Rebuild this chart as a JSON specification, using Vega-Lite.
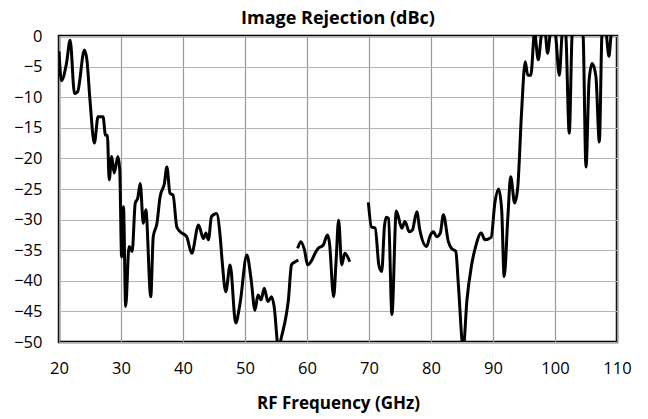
{
  "$schema": "https://vega.github.io/schema/vega-lite/v6.json",
  "autosize": {"type": "none"},
  "width": 558,
  "height": 306,
  "padding": {"left": 59, "top": 36, "right": 31, "bottom": 77},
  "background": "white",
  "title": {"text": "Image Rejection (dBc)", "font": "Open Sans", "fontSize": 18, "fontWeight": "bold", "color": "black", "offset": 0, "anchor": "middle"},
  "config": {
    "view": {"stroke": "black", "strokeWidth": 2.5},
    "axis": {"labelFont": "Open Sans", "labelFontSize": 16.5, "labelColor": "black", "titleFont": "Open Sans", "titleFontSize": 17, "titleFontWeight": "bold", "titleColor": "black", "ticks": false, "domain": false, "gridColor": "#a8a8a8", "gridWidth": 1.2, "gridOpacity": 1, "labelFlush": false}
  },
  "data": {"values": [
    {"f": 20.0, "v": -2.5, "s": "A"}, {"f": 20.4, "v": -7.3, "s": "A"}, {"f": 21.2, "v": -4.5, "s": "A"}, {"f": 21.8, "v": -0.7, "s": "A"},
    {"f": 22.5, "v": -9.4, "s": "A"}, {"f": 23.0, "v": -9.1, "s": "A"}, {"f": 24.1, "v": -2.3, "s": "A"}, {"f": 24.5, "v": -3.9, "s": "A"},
    {"f": 25.0, "v": -10.5, "s": "A"}, {"f": 25.7, "v": -17.5, "s": "A"}, {"f": 26.3, "v": -13.2, "s": "A"}, {"f": 27.1, "v": -13.2, "s": "A"},
    {"f": 27.5, "v": -16.2, "s": "A"}, {"f": 27.8, "v": -16.2, "s": "A"}, {"f": 28.1, "v": -23.5, "s": "A"}, {"f": 28.5, "v": -19.7, "s": "A"},
    {"f": 28.9, "v": -22.4, "s": "A"}, {"f": 29.5, "v": -19.7, "s": "A"}, {"f": 29.8, "v": -21.9, "s": "A"}, {"f": 30.1, "v": -36.1, "s": "A"},
    {"f": 30.4, "v": -27.9, "s": "A"}, {"f": 30.75, "v": -44.2, "s": "A"}, {"f": 31.3, "v": -34.4, "s": "A"}, {"f": 31.8, "v": -35.2, "s": "A"},
    {"f": 32.3, "v": -27.3, "s": "A"}, {"f": 32.7, "v": -26.5, "s": "A"}, {"f": 33.1, "v": -24.1, "s": "A"}, {"f": 33.6, "v": -30.6, "s": "A"},
    {"f": 34.0, "v": -28.4, "s": "A"}, {"f": 34.8, "v": -42.6, "s": "A"}, {"f": 35.2, "v": -32.8, "s": "A"}, {"f": 35.8, "v": -30.6, "s": "A"},
    {"f": 36.3, "v": -26.3, "s": "A"}, {"f": 37.0, "v": -24.1, "s": "A"}, {"f": 37.4, "v": -21.4, "s": "A"}, {"f": 37.9, "v": -25.7, "s": "A"},
    {"f": 38.4, "v": -26.0, "s": "A"}, {"f": 39.0, "v": -31.2, "s": "A"}, {"f": 39.8, "v": -32.2, "s": "A"}, {"f": 40.3, "v": -32.5, "s": "A"},
    {"f": 40.6, "v": -32.8, "s": "A"}, {"f": 41.4, "v": -35.5, "s": "A"}, {"f": 42.5, "v": -30.9, "s": "A"}, {"f": 43.3, "v": -33.1, "s": "A"},
    {"f": 43.7, "v": -32.2, "s": "A"}, {"f": 44.1, "v": -33.3, "s": "A"}, {"f": 44.6, "v": -29.5, "s": "A"}, {"f": 45.4, "v": -29.0, "s": "A"},
    {"f": 46.0, "v": -32.8, "s": "A"}, {"f": 46.3, "v": -36.6, "s": "A"}, {"f": 46.9, "v": -41.8, "s": "A"}, {"f": 47.6, "v": -37.4, "s": "A"},
    {"f": 48.5, "v": -46.9, "s": "A"}, {"f": 49.2, "v": -43.7, "s": "A"}, {"f": 50.3, "v": -35.8, "s": "A"}, {"f": 51.0, "v": -39.9, "s": "A"},
    {"f": 51.6, "v": -44.8, "s": "A"}, {"f": 52.1, "v": -42.3, "s": "A"}, {"f": 52.6, "v": -43.1, "s": "A"}, {"f": 53.1, "v": -41.2, "s": "A"},
    {"f": 53.7, "v": -43.4, "s": "A"}, {"f": 54.3, "v": -42.6, "s": "A"}, {"f": 54.7, "v": -44.2, "s": "A"}, {"f": 55.4, "v": -51, "s": "A"},
    {"f": 55.9, "v": -49.1, "s": "A"}, {"f": 56.7, "v": -45.3, "s": "A"}, {"f": 57.0, "v": -43.1, "s": "A"}, {"f": 57.5, "v": -37.4, "s": "A"},
    {"f": 58.1, "v": -36.9, "s": "A"}, {"f": 58.6, "v": -36.6, "s": "A"},
    {"f": 58.5, "v": -34.7, "s": "B"}, {"f": 59.0, "v": -33.6, "s": "B"}, {"f": 59.6, "v": -35.0, "s": "B"}, {"f": 60.1, "v": -37.4, "s": "B"},
    {"f": 60.8, "v": -36.6, "s": "B"}, {"f": 61.3, "v": -35.5, "s": "B"}, {"f": 61.8, "v": -34.7, "s": "B"}, {"f": 62.6, "v": -34.2, "s": "B"},
    {"f": 63.3, "v": -32.5, "s": "B"}, {"f": 63.6, "v": -33.6, "s": "B"}, {"f": 64.3, "v": -42.6, "s": "B"}, {"f": 64.7, "v": -36.6, "s": "B"},
    {"f": 65.1, "v": -30.1, "s": "B"}, {"f": 65.6, "v": -37.4, "s": "B"}, {"f": 66.1, "v": -35.5, "s": "B"}, {"f": 66.9, "v": -36.9, "s": "B"},
    {"f": 69.9, "v": -27.2, "s": "C"}, {"f": 70.4, "v": -31.2, "s": "C"}, {"f": 71.0, "v": -31.4, "s": "C"}, {"f": 71.6, "v": -37.5, "s": "C"},
    {"f": 72.05, "v": -38.5, "s": "C"}, {"f": 72.5, "v": -31.0, "s": "C"}, {"f": 72.8, "v": -29.6, "s": "C"}, {"f": 73.15, "v": -29.8, "s": "C"},
    {"f": 73.7, "v": -45.5, "s": "C"}, {"f": 74.4, "v": -28.6, "s": "C"}, {"f": 75.3, "v": -31.4, "s": "C"}, {"f": 75.8, "v": -30.3, "s": "C"},
    {"f": 76.5, "v": -32.0, "s": "C"}, {"f": 77.0, "v": -31.7, "s": "C"}, {"f": 77.7, "v": -28.7, "s": "C"}, {"f": 78.2, "v": -31.7, "s": "C"},
    {"f": 79.3, "v": -34.4, "s": "C"}, {"f": 79.8, "v": -32.8, "s": "C"}, {"f": 80.4, "v": -32.0, "s": "C"}, {"f": 80.9, "v": -32.8, "s": "C"},
    {"f": 81.5, "v": -32.2, "s": "C"}, {"f": 82.0, "v": -29.2, "s": "C"}, {"f": 82.8, "v": -33.6, "s": "C"}, {"f": 83.3, "v": -34.7, "s": "C"},
    {"f": 84.0, "v": -35.2, "s": "C"}, {"f": 84.4, "v": -40.4, "s": "C"}, {"f": 85.2, "v": -51, "s": "C"}, {"f": 85.8, "v": -43.1, "s": "C"},
    {"f": 86.5, "v": -37.7, "s": "C"}, {"f": 87.2, "v": -34.4, "s": "C"}, {"f": 88.1, "v": -32.2, "s": "C"}, {"f": 88.7, "v": -33.3, "s": "C"},
    {"f": 89.7, "v": -32.9, "s": "C"}, {"f": 90.3, "v": -27.3, "s": "C"}, {"f": 90.9, "v": -25.0, "s": "C"}, {"f": 91.4, "v": -28.4, "s": "C"},
    {"f": 91.8, "v": -39.3, "s": "C"}, {"f": 92.4, "v": -29.5, "s": "C"}, {"f": 92.85, "v": -23.0, "s": "C"}, {"f": 93.5, "v": -27.3, "s": "C"},
    {"f": 94.0, "v": -24.6, "s": "C"}, {"f": 94.6, "v": -12.6, "s": "C"}, {"f": 95.2, "v": -4.2, "s": "C"}, {"f": 95.6, "v": -6.4, "s": "C"},
    {"f": 96.1, "v": -6.4, "s": "C"}, {"f": 96.7, "v": 0.5, "s": "C"}, {"f": 97.3, "v": -3.9, "s": "C"}, {"f": 97.9, "v": 0.5, "s": "C"},
    {"f": 98.4, "v": 0.5, "s": "C"}, {"f": 98.8, "v": -2.8, "s": "C"}, {"f": 99.3, "v": 0.5, "s": "C"}, {"f": 100.0, "v": 0.5, "s": "C"},
    {"f": 100.7, "v": -6.4, "s": "C"}, {"f": 101.2, "v": 0.5, "s": "C"}, {"f": 101.7, "v": 0.5, "s": "C"}, {"f": 102.3, "v": -15.9, "s": "C"},
    {"f": 102.8, "v": 0.5, "s": "C"}, {"f": 104.5, "v": 0.5, "s": "C"}, {"f": 105.0, "v": -21.4, "s": "C"}, {"f": 105.5, "v": -7.2, "s": "C"},
    {"f": 106.0, "v": -4.5, "s": "C"}, {"f": 106.6, "v": -6.6, "s": "C"}, {"f": 107.15, "v": -17.3, "s": "C"}, {"f": 107.6, "v": 0.5, "s": "C"},
    {"f": 108.2, "v": 0.5, "s": "C"}, {"f": 108.7, "v": -3.3, "s": "C"}, {"f": 109.1, "v": 0.5, "s": "C"}, {"f": 109.5, "v": 1, "s": "C"}
  ]},
  "mark": {"type": "line", "color": "black", "strokeWidth": 3, "interpolate": "monotone", "clip": true},
  "encoding": {
    "x": {"field": "f", "type": "quantitative", "scale": {"domain": [20, 110], "nice": false, "zero": false}, "axis": {"values": [20, 30, 40, 50, 60, 70, 80, 90, 100, 110], "title": "RF Frequency (GHz)", "labelPadding": 18, "titlePadding": 19, "gridColor": "#999999"}},
    "y": {"field": "v", "type": "quantitative", "scale": {"domain": [-50, 0], "nice": false, "zero": false}, "axis": {"values": [-50, -45, -40, -35, -30, -25, -20, -15, -10, -5, 0], "title": null, "labelPadding": 17, "gridColor": "#b4b4b4"}},
    "detail": {"field": "s", "type": "nominal"}
  }
}
